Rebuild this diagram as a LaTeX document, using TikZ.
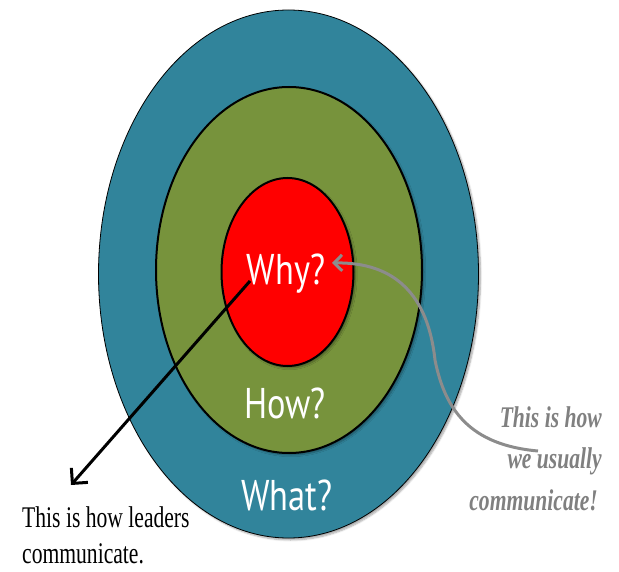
\documentclass[tikz,border=0pt]{standalone}
\usepackage{fontspec}
\usetikzlibrary{shapes.geometric,arrows.meta,shadows.blur}
\newfontfamily\ringfont{PT Sans}
\newfontfamily\notefont{Liberation Serif}
\definecolor{tealring}{HTML}{31849B}
\definecolor{greenring}{HTML}{77933C}
\definecolor{redring}{HTML}{FF0000}
\definecolor{grayink}{HTML}{808080}
\definecolor{grayarrow}{HTML}{8C8C8C}
\newcommand{\squish}[1]{\scalebox{0.72}[1]{#1}}
\newcommand{\ringsquish}[1]{\scalebox{0.8}[1]{#1}}
\tikzset{
  ring/.style={ellipse, inner sep=0pt, draw=black,
    blur shadow={shadow xshift=2pt, shadow yshift=-2pt, shadow blur steps=6, shadow opacity=35}},
  ringlabel/.style={text=white, inner sep=0pt, anchor=base, font=\ringfont\fontsize{43}{43}\selectfont},
  blacknote/.style={inner sep=0pt, text=black, font=\notefont\fontsize{30}{30}\selectfont},
  graynote/.style={inner sep=0pt, text=grayink, font=\notefont\bfseries\itshape\fontsize{30}{30}\selectfont},
  leaderarrow/.style={line width=3pt, draw=black, -{Straight Barb[length=11pt,width=22pt]}},
  usualarrow/.style={line width=3pt, draw=grayarrow, -{Straight Barb[length=8pt,width=16pt]}}
}
\begin{document}
\begin{tikzpicture}[x=1pt,y=-1pt]
\useasboundingbox (0,0) rectangle (619,572);
\node[ring, fill=tealring, line width=0.8pt, minimum width=380pt, minimum height=528pt] (outer) at (288.5,274) {};
\node[ring, fill=greenring, line width=2pt, minimum width=266pt, minimum height=366pt] (middle) at (289,270) {};
\node[ring, fill=redring, line width=2pt, minimum width=132pt, minimum height=188pt] (inner) at (287.5,272) {};
\node[ringlabel] (why) at (286,285) {\ringsquish{Why?}};
\node[ringlabel] (how) at (285,418) {\ringsquish{How?}};
\node[ringlabel] (what) at (287,510) {\ringsquish{What?}};
\node[blacknote, anchor=base west] (lead1) at (22,527) {\squish{This is how leaders}};
\node[blacknote, anchor=base west] (lead2) at (22,563) {\squish{communicate.}};
\node[graynote, anchor=base east] (usual1) at (602,427) {\squish{This is how}};
\node[graynote, anchor=base east] (usual2) at (602,468) {\squish{we usually}};
\node[graynote, anchor=base east] (usual3) at (598,510) {\squish{communicate!}};
\coordinate (leadtip) at (71,485);
\coordinate (leadstart) at (250,281);
\coordinate (usualstart) at (538,451);
\coordinate (usualtip) at (332,263);
\draw[leaderarrow] (leadstart) -- (leadtip);
\draw[usualarrow] (usualstart) .. controls (470,445) and (445,410) .. (435,360)
  .. controls (428,295) and (395,262) .. (usualtip);
\end{tikzpicture}
\end{document}
